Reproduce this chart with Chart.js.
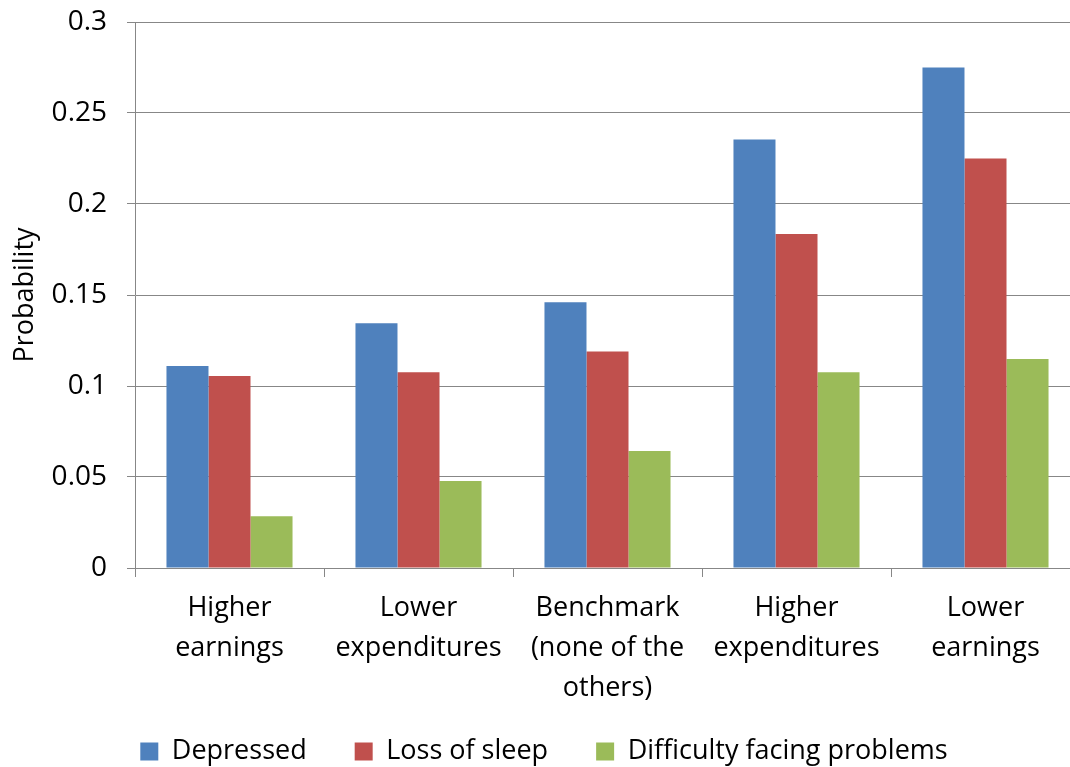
<!DOCTYPE html>
<html>
<head>
<meta charset="utf-8">
<script src="https://cdn.jsdelivr.net/npm/chart.js@4"></script>
<style>
html,body{margin:0;padding:0;overflow:hidden;background:#fff;}
#wrap{width:1085px;height:767px;position:relative;}
</style>
</head>
<body>
<div id="wrap"><canvas id="c" width="1085" height="767"></canvas></div>
<script>
const categories = [["Higher","earnings"],["Lower","expenditures"],["Benchmark","(none of the","others)"],["Higher","expenditures"],["Lower","earnings"]];
const seriesNames = ["Depressed","Loss of sleep","Difficulty facing problems"];
const depressed = [0.111, 0.1345, 0.146, 0.2355, 0.275];
const lossOfSleep = [0.1055, 0.1075, 0.119, 0.1835, 0.225];
const difficulty = [0.0285, 0.0478, 0.0643, 0.1075, 0.1148];
const yTicks = [0, 0.05, 0.1, 0.15, 0.2, 0.25, 0.3];
const colors = ["#4F81BD","#C0504D","#9BBB59"];

const FONT = "'Open Sans', Lato, sans-serif";
const gridColor = "#878787";
const LEGEND_PAD = 48;
const LEGEND_ITEM_TOP = 738;

const legendShift = {
  id: 'legendShift',
  afterLayout(chart) {
    const lg = chart.legend;
    if (!lg) return;
    lg.top = LEGEND_ITEM_TOP - LEGEND_PAD;
    lg.bottom = chart.height;
    lg.height = lg.bottom - lg.top;
    lg.left += 4;
    lg.right += 4;
  }
};

new Chart(document.getElementById('c'), {
  type: 'bar',
  data: {
    labels: categories,
    datasets: [
      {label: seriesNames[0], data: depressed, backgroundColor: colors[0]},
      {label: seriesNames[1], data: lossOfSleep, backgroundColor: colors[1]},
      {label: seriesNames[2], data: difficulty, backgroundColor: colors[2]}
    ]
  },
  plugins: [legendShift],
  options: {
    responsive: false,
    animation: false,
    devicePixelRatio: 1,
    layout: {padding: {top: 22, right: 5, left: 0, bottom: 0}},
    datasets: {bar: {categoryPercentage: 0.667, barPercentage: 1.0, borderWidth: 0}},
    plugins: {
      tooltip: {enabled: false},
      legend: {
        position: 'bottom',
        maxHeight: 54,
        labels: {
          color: '#000',
          font: {family: FONT, size: 27},
          boxWidth: 18, boxHeight: 18,
          padding: LEGEND_PAD
        }
      }
    },
    scales: {
      x: {
        grid: {display: true, drawOnChartArea: false, drawTicks: true, tickLength: 9, color: gridColor, lineWidth: 1},
        border: {display: true, color: gridColor, width: 1},
        ticks: {color: '#000', font: {family: FONT, size: 27, lineHeight: 1.48}, padding: 11, maxRotation: 0, autoSkip: false},
        afterFit: s => { s.height = 145; }
      },
      y: {
        min: 0, max: 0.3,
        afterBuildTicks: s => { s.ticks = yTicks.map(v => ({value: v})); },
        grid: {color: gridColor, lineWidth: 1, tickLength: 8},
        border: {display: true, color: gridColor, width: 1},
        ticks: {color: '#000', font: {family: FONT, size: 28}, padding: 20, callback: v => String(v)},
        title: {display: true, text: 'Probability', color: '#000', font: {family: FONT, size: 27}, padding: {top: 9, bottom: 0}},
        afterFit: s => { s.width = 135; s.paddingTop = 0; s.paddingBottom = 0; }
      }
    }
  }
});
</script>
</body>
</html>
